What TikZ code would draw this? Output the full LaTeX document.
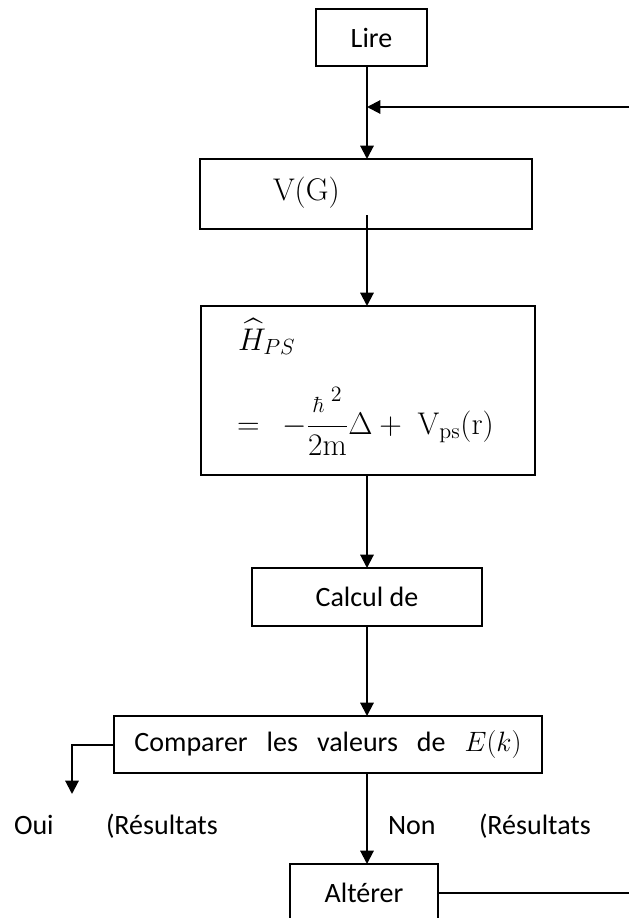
\documentclass[tikz,border=0pt]{standalone}
\usepackage{fix-cm}
\usepackage{amsmath}
\usepackage[no-math]{fontspec}
\setmainfont{Carlito}
\usetikzlibrary{arrows.meta,calc}
\newcommand\chartfont{\fontsize{21}{25}\selectfont}
\newcommand\formulafont{\fontsize{23.5}{28}\selectfont}
\begin{document}
\begin{tikzpicture}[x=0.75pt,y=-0.75pt,
  box/.style={draw,line width=1pt,inner sep=0pt,outer sep=0pt,font=\chartfont},
  txt/.style={inner sep=0pt,outer sep=0pt,font=\chartfont},
  formula/.style={inner sep=0pt,outer sep=0pt,font=\formulafont},
  arr/.style={line width=1.5pt,-{Triangle[length=10pt,width=10pt]}},
  plain/.style={line width=1pt}]
\useasboundingbox (0,0) rectangle (629,918);
\clip (0,0) rectangle (629,918);

% vertical spine of the flow chart and free line ends
\coordinate (spine) at (367,0);
\coordinate (loopin) at (629,107);
\coordinate (ouitip) at (72,794);
\coordinate (loopout) at (629,892);

% boxes
\node[box,minimum width=83.25pt,minimum height=42.75pt] (lire) at (371.5,37.5) {Lire};
\node[box,minimum width=249pt,minimum height=52.5pt] (vg) at (366,194) {};
\node[box,minimum width=250.5pt,minimum height=126.75pt] (ham) at (368,390.5) {};
\node[box,minimum width=172.5pt,minimum height=43.5pt] (calc) at (367,597) {Calcul de};
\node[box,minimum width=321pt,minimum height=42.75pt] (cmp) at (328,744.5)
  {Comparer~~~les~~~valeurs~~~de~~~$E(k)$};
\node[box,minimum width=111pt,minimum height=43.5pt] (alt) at (364,893) {Altérer};

% box contents
\node[formula,anchor=base west] (vgtxt) at (273,200) {$\mathrm{V(G)}$};
\node[formula,anchor=base west] (hhat) at (238,350) {$\widehat{H}_{PS}$};
\node[formula,anchor=base west] (heq) at (237,434)
  {$=\mkern8mu-\dfrac{{\scriptstyle\hbar}^{\;2}}{2\mathrm{m}}\Delta+\;\mathrm{V}_{\mathrm{ps}}(\mathrm{r})$};

% branch labels
\node[txt,anchor=base west] (oui) at (14,834) {Oui};
\node[txt,anchor=base west] (res1) at (106,834) {(Résultats};
\node[txt,anchor=base west] (non) at (388,834) {Non};
\node[txt,anchor=base west] (res2) at (479,834) {(Résultats};

% connectors
\draw[arr] (lire.south -| spine) -- (vg.north -| spine);
\draw[arr] (loopin) -- (loopin -| spine);
\draw[arr] ($(vg.south -| spine)+(0,-14)$) -- (ham.north -| spine);
\draw[arr] (ham.south -| spine) -- (calc.north -| spine);
\draw[arr] (calc.south -| spine) -- (cmp.north -| spine);
\draw[arr] (cmp.west) -| (ouitip);
\draw[arr] (cmp.south -| spine) -- (alt.north -| spine);
\draw[plain] (alt.east) -- (alt.east -| loopout);
\end{tikzpicture}
\end{document}
